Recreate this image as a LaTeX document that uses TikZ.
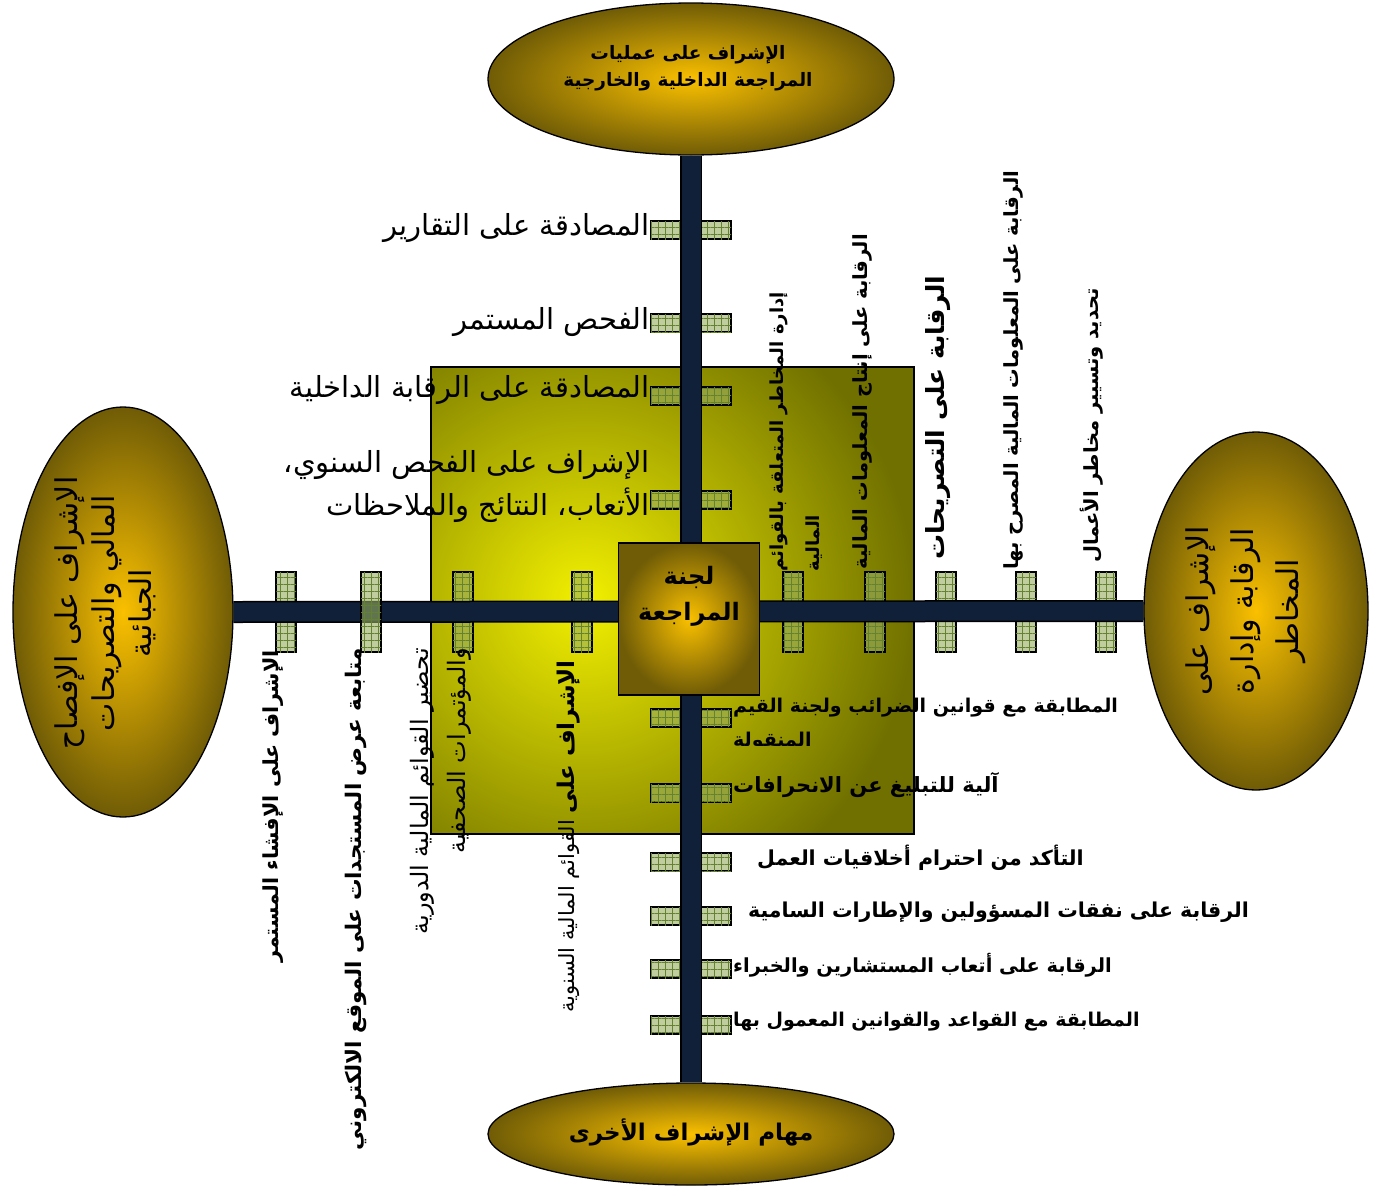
\documentclass[tikz,border=0pt]{standalone}
\usepackage{fontspec}
\newfontfamily\arfont[Script=Arabic]{DejaVu Sans}
\TeXXeTstate=1
\usetikzlibrary{shapes.geometric,patterns.meta}
\definecolor{navybar}{RGB}{16,32,56}
\definecolor{goldin}{RGB}{250,192,0}
\definecolor{goldout}{RGB}{112,92,6}
\definecolor{olivein}{RGB}{242,240,0}
\definecolor{oliveout}{RGB}{112,112,0}
\definecolor{tickfill}{RGB}{150,172,95}
\definecolor{gridcol}{RGB}{100,130,50}
\newcommand\artxt[1]{\beginR #1\endR}
\newcommand\fsz[2]{\fontsize{#1}{#2}\selectfont}
\pgfdeclarelayer{bgzero}
\pgfdeclarelayer{barlayer}
\pgfsetlayers{bgzero,barlayer,main}
\begin{document}
\begin{tikzpicture}[x=1pt,y=-1pt,
  every node/.style={inner sep=0pt},
  ell/.style={ellipse, draw=black, line width=1.3pt, inner color=goldin, outer color=goldout},
  tickbase/.style={draw=black, line width=1.1pt, fill=tickfill, fill opacity=0.6,
     postaction={pattern={Lines[distance=7pt,angle=0,line width=0.5pt]}, pattern color=gridcol},
     postaction={pattern={Lines[distance=7pt,angle=90,line width=0.5pt]}, pattern color=gridcol}},
  tickh/.style={tickbase, rectangle, minimum width=80, minimum height=18},
  tickv/.style={tickbase, rectangle, minimum width=20, minimum height=80},
  bar/.style={draw=black, line width=1.5pt, double=navybar, double distance=19pt},
  lreg/.style={font=\arfont\fsz{29}{43}},
  lbold/.style={font=\arfont\bfseries\fsz{#1}{34}},
  lbold/.default=20,
]
\useasboundingbox (0,0) rectangle (1379,1200);

% olive background panel and ticks
\begin{pgfonlayer}{bgzero}
\fill[white] (0,0) rectangle (1379,1200);
\fill[oliveout] (431,367) rectangle (914,834);
\begin{scope}
\clip (431,367) rectangle (914,834);
\shade[inner color=olivein, outer color=oliveout] (585,600) circle (330);
\end{scope}
\draw[black, line width=1.5pt] (431,367) rectangle (914,834);
\foreach \y [count=\i] in {230,323,396,500,718,793,862,916,969,1025}
  \node[tickh] (tv\i) at (691,\y) {};
\foreach \x [count=\i] in {286,463,582,793,875,946,1026,1106}
  \node[tickv] (th\i) at (\x,612) {};
\end{pgfonlayer}

% end nodes
\node[ell, minimum width=406, minimum height=152] (topell) at (691,79) {};
\node[ell, minimum width=406, minimum height=102] (botell) at (691,1134) {};
\node[ell, minimum width=220, minimum height=410] (leftell) at (123,612) {};
\node[ell, minimum width=224, minimum height=358] (rightell) at (1256,611) {};

% bars
\begin{pgfonlayer}{barlayer}
\draw[bar] (topell.south) -- (botell.north);
\draw[bar] (leftell.east) -- (rightell.west);
\end{pgfonlayer}
\node[tickv] (thx) at (371,612) {};

% centre box
\node[draw=black, line width=1.5pt, rectangle, minimum width=141, minimum height=152,
  inner color=goldin, outer color=goldout] (ac) at (689,619) {};
\node[font=\arfont\bfseries\fsz{24}{36}, align=center] (actxt) at (689,596)
  {\artxt{لجنة}\\\artxt{المراجعة}};

% ellipse texts
\node[font=\arfont\bfseries\fsz{18.5}{27}, align=center] (toptxt) at (688,68)
  {\artxt{الإشراف على عمليات}\\\artxt{المراجعة الداخلية والخارجية}};
\node[font=\arfont\bfseries\fsz{23}{30}] (bottxt) at (691,1132)
  {\artxt{مهام الإشراف الأخرى}};
\node[font=\arfont\fsz{30}{37}, align=center, rotate=90] (lefttxt) at (105,613)
  {\artxt{الإشراف على الإفصاح}\\\artxt{المالي والتصريحات}\\\artxt{الجبائية}};
\node[font=\arfont\fsz{30}{45}, align=center, rotate=90] (righttxt) at (1246,611)
  {\artxt{الإشراف على}\\\artxt{الرقابة وإدارة}\\\artxt{المخاطر}};

% upper labels (left of vertical bar)
\node[lreg, anchor=east] (u1) at (650,228) {\artxt{المصادقة على التقارير}};
\node[lreg, anchor=east] (u2) at (650,322) {\artxt{الفحص المستمر}};
\node[lreg, anchor=east] (u3) at (650,390) {\artxt{المصادقة على الرقابة الداخلية}};
\node[lreg, anchor=east, align=right] (u4) at (650,487)
  {\artxt{الإشراف على الفحص السنوي،}\\\artxt{الأتعاب، النتائج والملاحظات}};

% lower labels (right of vertical bar)
\node[lbold=19, anchor=west] (d1) at (733,708) {\artxt{المطابقة مع قوانين الضرائب ولجنة القيم}};
\begin{scope}
\clip (720,725) rectangle (900,745.5);
\node[lbold=19, anchor=west] (d1b) at (733,742) {\artxt{المنقولة}};
\end{scope}
\node[lbold=21, anchor=west] (d2) at (733,785) {\artxt{آلية للتبليغ عن الانحرافات}};
\node[lbold=20.6, anchor=west] (d3) at (757,858) {\artxt{التأكد من احترام أخلاقيات العمل}};
\node[lbold=20.5, anchor=west] (d4) at (748,912) {\artxt{الرقابة على نفقات المسؤولين والإطارات السامية}};
\node[lbold=19.4, anchor=west] (d5) at (733,965) {\artxt{الرقابة على أتعاب المستشارين والخبراء}};
\node[lbold=19, anchor=west] (d6) at (733,1022) {\artxt{المطابقة مع القواعد والقوانين المعمول بها}};

% right labels (above horizontal bar, rotated)
\node[font=\arfont\bfseries\fsz{18}{36}, rotate=90, anchor=west, align=left] (r1) at (796,572)
  {\artxt{إدارة المخاطر المتعلقة بالقوائم}\\\artxt{المالية}};
\node[lbold=19.5, rotate=90, anchor=west] (r2) at (862,570) {\artxt{الرقابة على إنتاج المعلومات المالية}};
\node[font=\arfont\bfseries\fsz{25}{34}, rotate=90, anchor=west] (r3) at (938,560) {\artxt{الرقابة على التصريحات}};
\node[lbold=19.5, rotate=90, anchor=west] (r4) at (1013,570) {\artxt{الرقابة على المعلومات المالية المصرح بها}};
\node[lbold=19.5, rotate=90, anchor=west] (r5) at (1092,563) {\artxt{تحديد وتسيير مخاطر الأعمال}};

% left labels (below horizontal bar, rotated)
\node[font=\arfont\bfseries\fsz{20.7}{34}, rotate=90, anchor=east] (l1) at (273,650) {\artxt{الإشراف على الإفشاء المستمر}};
\node[font=\arfont\bfseries\fsz{21.5}{34}, rotate=90, anchor=east] (l2) at (356,648) {\artxt{متابعة عرض المستجدات على الموقع الالكتروني}};
\node[font=\arfont\fsz{24}{37}, rotate=90, anchor=east, align=right] (l3) at (441,648)
  {\artxt{تحضير القوائم المالية الدورية}\\\artxt{والمؤتمرات الصحفية}};
\node[font=\arfont\fsz{21}{34}, rotate=90, anchor=east] (l4) at (569,660)
  {\artxt{{\bfseries\fsz{23}{34}الإشراف على} القوائم المالية السنوية}};
\end{tikzpicture}
\end{document}
